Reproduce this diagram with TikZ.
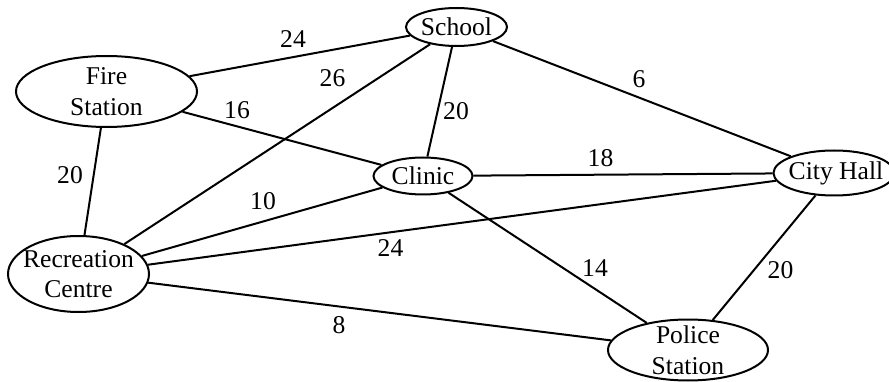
\documentclass[tikz,border=0pt]{standalone}
\usepackage{fontspec}
\setmainfont{Liberation Serif}
\usetikzlibrary{shapes.geometric}
\begin{document}
\begin{tikzpicture}[x=1pt,y=-1pt,
  place/.style={draw, ellipse, line width=2pt, inner sep=0pt},
  txt/.style={inner sep=0pt, align=center, font=\fontsize{25.6}{30.5}\selectfont},
  edge/.style={line width=2pt},
  lbl/.style={inner sep=0pt, font=\fontsize{25.6}{30}\selectfont}]
\useasboundingbox (0,0) rectangle (889,382);
% places
\node[place, minimum width=101pt, minimum height=38pt,
  label={[txt]center:School}] (school) at (456.5,27) {};
\node[place, minimum width=181pt, minimum height=71pt,
  label={[txt]center:{Fire\\Station}}] (fire) at (106.5,91.5) {};
\node[place, minimum width=99pt, minimum height=37pt,
  label={[txt]center:Clinic}] (clinic) at (423,176) {};
\node[place, minimum width=121pt, minimum height=45pt,
  label={[txt, xshift=2pt]center:City Hall}] (city) at (834,173) {};
\node[place, minimum width=141pt, minimum height=76pt,
  label={[txt]center:{Recreation\\Centre}}] (rec) at (78.5,274) {};
\node[place, minimum width=160pt, minimum height=61pt,
  label={[txt]center:{Police\\Station}}] (police) at (688,350) {};
% connectors
\draw[edge] (fire) -- (school);
\draw[edge] (fire) -- (clinic);
\draw[edge] (fire) -- (rec);
\draw[edge] (school) -- (rec);
\draw[edge] (school) -- (clinic);
\draw[edge] (school) -- (city);
\draw[edge] (clinic) -- (city);
\draw[edge] (clinic) -- (rec);
\draw[edge] (clinic) -- (police);
\draw[edge] (rec) -- (city);
\draw[edge] (rec) -- (police);
\draw[edge] (city) -- (police);
% weights
\node[lbl] (wfs) at (293,39) {24};
\node[lbl] (wsr) at (332.5,78) {26};
\node[lbl] (wfc) at (237,110) {16};
\node[lbl] (wsc) at (456,111) {20};
\node[lbl] (wfr) at (70,175) {20};
\node[lbl] (wsh) at (639,79.5) {6};
\node[lbl] (wch) at (600.5,158) {18};
\node[lbl] (wcr) at (263,201) {10};
\node[lbl] (wrh) at (390.5,248.5) {24};
\node[lbl] (wcp) at (595,268.5) {14};
\node[lbl] (whp) at (780.5,270.5) {20};
\node[lbl] (wrp) at (339,325.5) {8};
\end{tikzpicture}
\end{document}
